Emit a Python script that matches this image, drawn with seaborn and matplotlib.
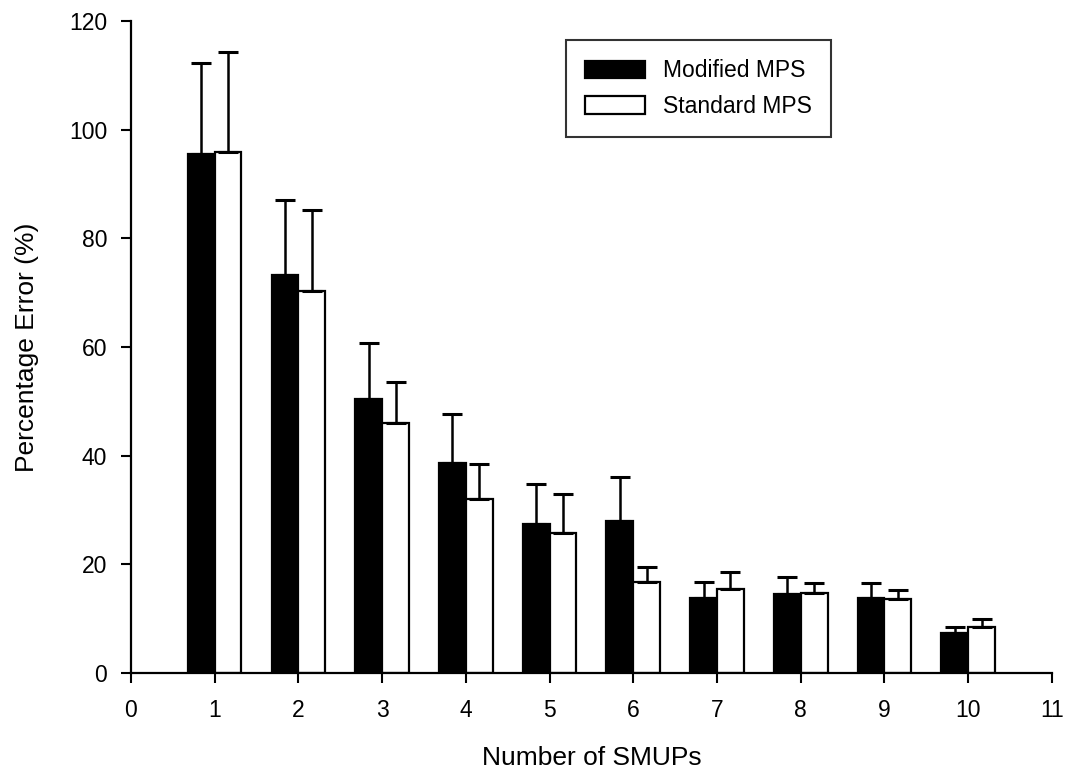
import numpy as np
import pandas as pd
import matplotlib
matplotlib.use("Agg")
import matplotlib.pyplot as plt
import seaborn as sns

smups = [1, 2, 3, 4, 5, 6, 7, 8, 9, 10]
modified_mean = [95.6, 73.3, 50.4, 38.7, 27.4, 28.0, 13.8, 14.5, 13.8, 7.4]
modified_sd = [16.7, 13.8, 10.4, 9.0, 7.4, 8.1, 3.0, 3.2, 2.8, 1.1]
standard_mean = [95.8, 70.3, 46.0, 32.0, 25.8, 16.8, 15.5, 14.7, 13.6, 8.5]
standard_sd = [18.5, 15.0, 7.6, 6.5, 7.2, 2.7, 3.1, 1.9, 1.7, 1.4]
series_names = ["Modified MPS", "Standard MPS"]

df = pd.DataFrame({
    "smups": smups * 2,
    "value": modified_mean + standard_mean,
    "sd": modified_sd + standard_sd,
    "method": [series_names[0]] * len(smups) + [series_names[1]] * len(smups),
})

sns.set_theme(style="white")
plt.rcParams["font.family"] = ["Liberation Sans", "DejaVu Sans"]
plt.rcParams["text.color"] = "black"

fig = plt.figure(figsize=(10.69, 7.76), dpi=100)
ax = fig.add_axes([0.1225, 0.1327, 0.8615, 0.8403])

palette = {series_names[0]: "black", series_names[1]: "white"}
sns.barplot(data=df, x="smups", y="value", hue="method", native_scale=True,
            palette=palette, width=0.64, errorbar=None, edgecolor="black",
            linewidth=1.6, ax=ax, hue_order=series_names, saturation=1)

# error bars (upper only), positioned at bar centers
for patch_group, name in zip([ax.patches[:len(smups)], ax.patches[len(smups):2 * len(smups)]], series_names):
    sub = df[df["method"] == name]
    xs = [p.get_x() + p.get_width() / 2 for p in patch_group]
    ys = [p.get_height() for p in patch_group]
    sd = sub["sd"].to_numpy()
    ax.errorbar(xs, ys, yerr=[np.zeros_like(sd), sd], fmt="none", ecolor="black",
                elinewidth=1.8, capsize=7, capthick=2.2, zorder=3)

ax.set_xlim(0, 11)
ax.set_ylim(0, 120)
ax.set_xticks(range(0, 12))
ax.set_xticklabels([str(i) for i in range(0, 12)])
ax.set_yticks(range(0, 121, 20))

for s in ["top", "right"]:
    ax.spines[s].set_visible(False)
for s in ["left", "bottom"]:
    ax.spines[s].set_color("black")
    ax.spines[s].set_linewidth(1.6)

ax.tick_params(axis="both", direction="out", length=7, width=1.5, colors="black",
               labelsize=16.5, bottom=True, left=True)
ax.tick_params(axis="x", pad=12)
ax.tick_params(axis="y", pad=10)
ax.set_xlabel("Number of SMUPs", fontsize=19, color="black", labelpad=17)
ax.set_ylabel("Percentage Error (%)", fontsize=19, color="black", labelpad=22)

leg = ax.legend(loc="upper left", bbox_to_anchor=(0.472, 0.971), frameon=True,
                fontsize=16.5, handlelength=2.6, handleheight=0.8, borderpad=0.85,
                labelspacing=0.55, handletextpad=0.8, fancybox=False, borderaxespad=0)
leg.get_frame().set_edgecolor("black")
leg.get_frame().set_linewidth(1.5)
for t in leg.get_texts():
    t.set_color("black")
leg.set_title(None)

fig.savefig("out.png", dpi=100)
